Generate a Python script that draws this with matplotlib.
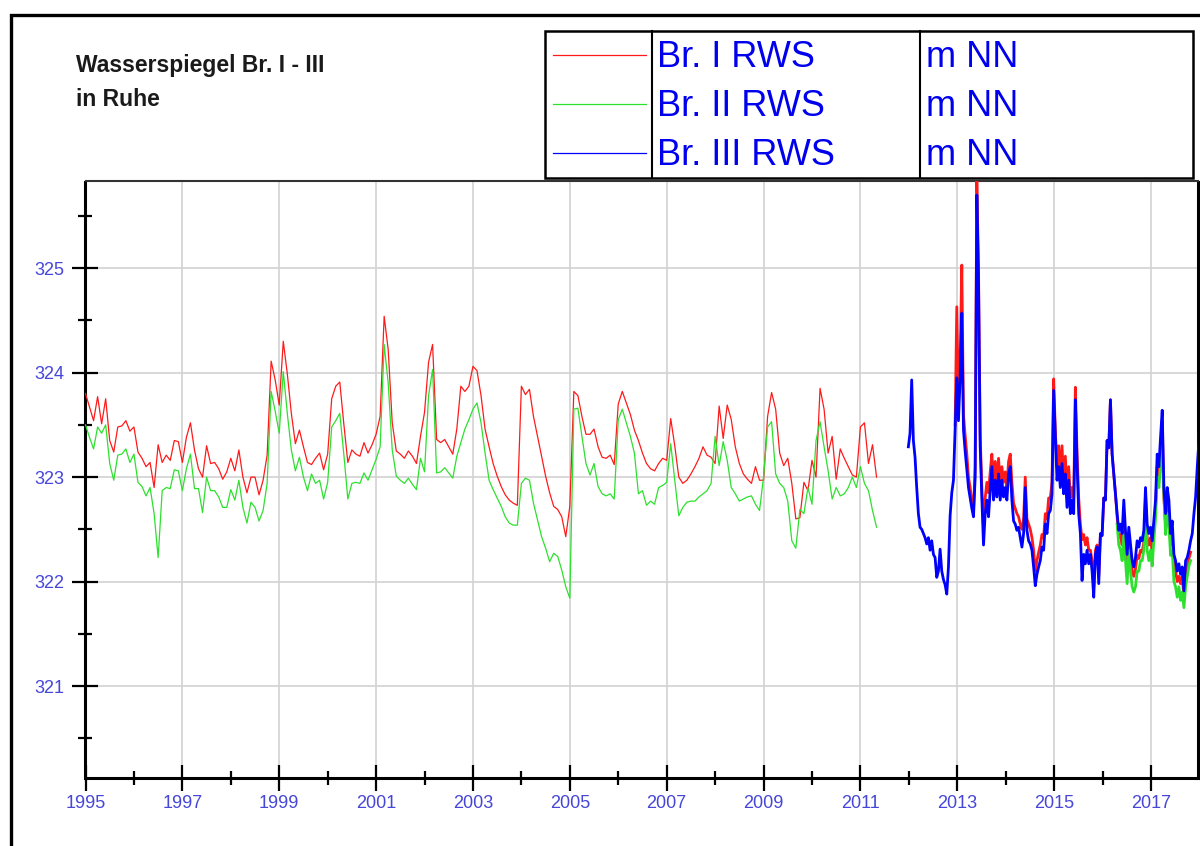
import numpy as np
import matplotlib
matplotlib.use("Agg")
import matplotlib.pyplot as plt
from matplotlib.lines import Line2D
from matplotlib.patches import Rectangle
from matplotlib.ticker import MultipleLocator, FixedLocator

plt.rcParams['font.family'] = ['Liberation Sans', 'DejaVu Sans']

# --- monthly readings 1995-01 .. 2011-05 (m NN) ---
start_monthly = 1995.0
br1_monthly = [
    323.80, 323.67, 323.54, 323.77, 323.51, 323.75, 323.35, 323.24, 323.48, 323.49, 323.54, 323.44,
    323.48, 323.24, 323.18, 323.10, 323.14, 322.90, 323.31, 323.14, 323.21, 323.16, 323.35, 323.34,
    323.14, 323.38, 323.52, 323.26, 323.08, 323.00, 323.30, 323.13, 323.14, 323.08, 322.98, 323.05,
    323.18, 323.06, 323.26, 323.00, 322.85, 323.00, 323.00, 322.83, 322.97, 323.21, 324.11, 323.93,
    323.69, 324.30, 323.99, 323.61, 323.32, 323.45, 323.29, 323.14, 323.12, 323.18, 323.23, 323.07,
    323.22, 323.75, 323.87, 323.91, 323.51, 323.14,
    323.26, 323.22, 323.20, 323.33, 323.23, 323.31, 323.41, 323.58, 324.54, 324.22, 323.52, 323.25,
    323.22, 323.18, 323.25, 323.20, 323.13, 323.39, 323.62, 324.10, 324.27, 323.36, 323.33, 323.36,
    323.29, 323.22, 323.46, 323.87, 323.82, 323.87, 324.06, 324.02, 323.78, 323.46, 323.29, 323.13,
    323.01, 322.91, 322.83, 322.78, 322.75, 322.73, 323.87, 323.79, 323.84, 323.58, 323.39, 323.20,
    323.01, 322.85, 322.72, 322.69, 322.62, 322.43, 322.72, 323.82, 323.78, 323.58, 323.41, 323.41,
    323.46, 323.29,
    323.19, 323.18, 323.21, 323.12, 323.70, 323.82, 323.71, 323.60, 323.45, 323.35, 323.23, 323.13,
    323.08, 323.06, 323.13, 323.18, 323.16, 323.56, 323.30, 323.00, 322.94, 322.97, 323.03, 323.10,
    323.18, 323.29, 323.21, 323.19, 323.13, 323.68, 323.37, 323.69, 323.55, 323.29, 323.13, 323.03,
    322.98, 322.94, 323.10, 322.97, 322.97, 323.58, 323.81, 323.65, 323.23, 323.11, 323.18, 322.94,
    322.60, 322.61, 322.95, 322.87, 323.16, 323.00, 323.85, 323.65, 323.23, 323.39, 322.98, 323.27,
    323.18, 323.10, 323.02, 323.00, 323.48, 323.52, 323.13, 323.31, 323.00,
]
br2_monthly = [
    323.50, 323.38, 323.27, 323.48, 323.42, 323.50, 323.13, 322.97, 323.21, 323.22, 323.27, 323.14,
    323.22, 322.95, 322.91, 322.82, 322.90, 322.65, 322.23, 322.87, 322.90, 322.89, 323.07, 323.06,
    322.87, 323.08, 323.22, 322.89, 322.89, 322.66, 323.00, 322.87, 322.87, 322.81, 322.71, 322.71,
    322.88, 322.78, 322.97, 322.71, 322.56, 322.76, 322.71, 322.58, 322.68, 322.94, 323.82, 323.63,
    323.42, 324.01, 323.61, 323.26, 323.06, 323.19, 323.00, 322.87, 323.03, 322.94, 322.97, 322.79,
    322.95, 323.48, 323.54, 323.61, 323.22, 322.79,
    322.94, 322.95, 322.94, 323.04, 322.97, 323.07, 323.17, 323.29, 324.27, 323.90, 323.26, 323.01,
    322.97, 322.94, 322.99, 322.93, 322.88, 323.18, 323.05, 323.78, 324.03, 323.04, 323.05, 323.09,
    323.04, 322.99, 323.20, 323.33, 323.46, 323.55, 323.65, 323.71, 323.52, 323.23, 322.97, 322.88,
    322.80, 322.72, 322.62, 322.56, 322.54, 322.54, 322.94, 322.99, 322.97, 322.75, 322.59, 322.43,
    322.32, 322.19, 322.27, 322.24, 322.11, 321.95, 321.84, 323.65, 323.66, 323.39, 323.13, 323.02,
    323.13, 322.91,
    322.84, 322.82, 322.84, 322.79, 323.55, 323.65, 323.52, 323.39, 323.23, 322.84, 322.87, 322.73,
    322.77, 322.74, 322.90, 322.92, 322.95, 323.32, 322.97, 322.63, 322.71, 322.76, 322.77, 322.77,
    322.81, 322.84, 322.87, 322.94, 323.39, 323.11, 323.34, 323.16, 322.90, 322.84, 322.77, 322.79,
    322.81, 322.82, 322.74, 322.68, 323.00, 323.48, 323.53, 323.03, 322.94, 322.90, 322.77, 322.39,
    322.32, 322.69, 322.65, 322.90, 322.74, 323.35, 323.53, 323.29, 323.06, 322.79, 322.90, 322.82,
    322.84, 322.90, 323.00, 322.90, 323.10, 322.94, 322.87, 322.68, 322.52,
]

# --- logger readings 2012 .. 2018, one value every ~12.6 days ---
start_logger = 2011.99
per_year_logger = 29
br3_logger = [
    323.29, 323.42, 323.93, 323.35, 323.19, 322.90, 322.65, 322.52, 322.50, 322.46,
    322.42, 322.36, 322.42, 322.30, 322.39, 322.26, 322.23, 322.04, 322.10, 322.31,
    322.10, 322.02, 321.97, 321.88, 322.14, 322.63, 322.85, 322.97, 323.45, 323.95,
    323.54, 323.95, 324.57, 323.45, 323.25, 323.08, 322.90, 322.80, 322.70, 322.62,
    323.00, 325.70, 324.89, 323.30, 322.80, 322.35, 322.65, 322.78, 322.62, 322.87,
    323.10, 322.78, 322.97, 322.81, 323.03, 322.78, 322.97, 322.81, 322.90, 322.78,
    323.03, 323.10, 322.78, 322.58, 322.55, 322.49, 322.52, 322.42, 322.33, 322.46,
    322.90, 322.49, 322.39, 322.36, 322.30, 322.14, 321.96, 322.07, 322.14, 322.20,
    322.33, 322.30, 322.55, 322.46, 322.65, 322.68, 322.84, 323.83, 323.40, 322.97,
    323.10, 322.90, 323.13, 322.84, 323.03, 322.71, 322.97, 322.65, 322.78, 322.65,
    323.74, 323.13, 322.65, 322.46, 322.01, 322.26, 322.17, 322.30, 322.17, 322.26,
    322.10, 321.85, 322.26, 322.33, 321.98, 322.46, 322.44, 322.80, 322.78, 323.35,
    323.28, 323.74, 323.22, 323.03, 322.84, 322.65, 322.49, 322.55, 322.46, 322.78,
    322.49, 322.26, 322.52, 322.36, 322.20, 322.14, 322.23, 322.39, 322.33, 322.42,
    322.39, 322.49, 322.90, 322.55, 322.46, 322.52, 322.39, 322.58, 322.78, 323.22,
    323.10, 323.38, 323.64, 322.90, 322.65, 322.90, 322.78, 322.46, 322.58, 322.26,
    322.20, 322.10, 322.17, 322.07, 322.14, 321.91, 322.20, 322.23, 322.30, 322.39,
    322.46, 322.65, 322.81, 323.10, 323.35, 323.90,
]
br1_logger_first = 28
br1_logger = [
    323.50, 324.63, 323.70, 324.10, 325.03, 323.60, 323.40, 323.22, 323.00, 322.90,
    322.78, 322.68, 323.10, 325.85, 325.00, 323.40, 322.90, 322.50, 322.80, 322.95,
    322.85, 323.05, 323.22, 322.95, 323.15, 322.95, 323.18, 322.95, 323.10, 322.95,
    323.05, 322.90, 323.15, 323.22, 322.95, 322.75, 322.70, 322.65, 322.62, 322.55,
    322.50, 322.60, 323.00, 322.60, 322.55, 322.50, 322.42, 322.30, 322.10, 322.20,
    322.28, 322.35, 322.45, 322.42, 322.65, 322.60, 322.80, 322.80, 322.95, 323.94,
    323.45, 323.10, 323.30, 323.00, 323.30, 322.95, 323.20, 322.85, 323.10, 322.80,
    322.90, 322.80, 323.86, 323.25, 322.80, 322.55, 322.40, 322.45, 322.35, 322.42,
    322.30, 322.30, 322.20, 321.95, 322.30, 322.35, 322.05, 322.45, 322.44, 322.80,
    322.78, 323.35, 323.28, 323.74, 323.22, 323.03, 322.84, 322.62, 322.42, 322.45,
    322.35, 322.65, 322.35, 322.15, 322.40, 322.25, 322.10, 322.05, 322.12, 322.25,
    322.22, 322.30, 322.28, 322.38, 322.80, 322.42, 322.35, 322.42, 322.28, 322.50,
    322.70, 323.10, 323.00, 323.25, 323.55, 322.80, 322.55, 322.75, 322.65, 322.35,
    322.45, 322.15, 322.10, 322.00, 322.05, 321.98, 322.05, 321.85, 322.10, 322.15,
    322.22, 322.28,
]
br2_logger_first = 125
br2_logger = [
    322.55, 322.35, 322.30, 322.20, 322.45, 322.20, 321.98, 322.30, 322.10, 321.95,
    321.90, 321.95, 322.10, 322.10, 322.20, 322.20, 322.30, 322.70, 322.30, 322.20,
    322.30, 322.15, 322.40, 322.60, 323.00, 322.90, 323.10, 323.30, 322.85, 322.45,
    322.65, 322.55, 322.25, 322.30, 322.00, 321.95, 321.85, 321.95, 321.82, 321.90,
    321.75, 321.95, 322.05, 322.15, 322.20,
]

legend_names = ["Br. I RWS", "Br. II RWS", "Br. III RWS"]
legend_units = ["m NN", "m NN", "m NN"]
title_lines = "Wasserspiegel Br. I - III\nin Ruhe"

c_red = '#ff1a1a'
c_green = '#2ee02e'
c_blue = '#0000ff'
c_tick = '#4646d8'

W, H = 1200, 846
fig = plt.figure(figsize=(W / 100, H / 100), dpi=100)


def fx(px):
    return px / W


def fy(py):
    return 1 - py / H


# plot area
ax = fig.add_axes([fx(85.5), fy(777.5), fx(1197.5 - 85.5), (777.5 - 181.5) / H])

t_month = start_monthly + np.arange(len(br1_monthly)) / 12
t_month2 = start_monthly + np.arange(len(br2_monthly)) / 12
t_log = start_logger + np.arange(len(br3_logger)) / per_year_logger
t_log1 = t_log[br1_logger_first:br1_logger_first + len(br1_logger)]
t_log2 = t_log[br2_logger_first:br2_logger_first + len(br2_logger)]

ax.plot(t_month, br1_monthly, color=c_red, lw=0.9, zorder=3)
ax.plot(t_month2, br2_monthly, color=c_green, lw=0.9, zorder=3)
ax.plot(t_log1, br1_logger, color=c_red, lw=2.0, zorder=3)
ax.plot(t_log2, br2_logger, color=c_green, lw=2.0, zorder=3)
ax.plot(t_log, br3_logger, color=c_blue, lw=2.0, zorder=4)

ax.set_xlim(1995, 2017.96)
ax.set_ylim(320.124, 325.83)

ax.xaxis.set_major_locator(FixedLocator(np.arange(1995, 2018, 2)))
ax.xaxis.set_minor_locator(FixedLocator(np.arange(1996, 2019, 2)))
ax.yaxis.set_major_locator(MultipleLocator(1))
ax.yaxis.set_minor_locator(MultipleLocator(0.5))
ax.xaxis.set_major_formatter(matplotlib.ticker.FuncFormatter(lambda v, p: f"{int(round(v))}"))
ax.yaxis.set_major_formatter(matplotlib.ticker.FuncFormatter(lambda v, p: f"{int(round(v))}"))

ax.tick_params(which='major', direction='inout', length=19, width=1.6, color='black',
               labelcolor=c_tick, labelsize=13)
ax.tick_params(which='minor', direction='inout', length=9.5, width=1.6, color='black')
ax.tick_params(axis='x', which='major', pad=3)
ax.tick_params(axis='y', which='major', pad=6)
ax.tick_params(top=False, right=False, which='both')

ax.grid(True, which='major', color='#d2d2d2', lw=1.2, zorder=0)
ax.set_axisbelow(True)

for side in ['left', 'bottom', 'right']:
    ax.spines[side].set_linewidth(2.2)
    ax.spines[side].set_color('black')
ax.spines['top'].set_linewidth(1.5)
ax.spines['top'].set_color('#333333')

# outer frame (cut off at the right and bottom edges)
fig.add_artist(Rectangle((fx(11), fy(H + 20)), fx(W + 20 - 11), (H + 20 - 15) / H,
                         transform=fig.transFigure, fill=False, lw=2.4,
                         edgecolor='black', clip_on=False))

# title
fig.text(fx(76), fy(54), title_lines, ha='left', va='top', fontsize=16.5,
         fontweight='bold', color='#1a1a1a', linespacing=1.6)

# legend table
x0, x1, x2, x3 = 545, 652, 920, 1193
y0, y1 = 31, 178
fig.add_artist(Rectangle((fx(x0), fy(y1)), fx(x3 - x0), (y1 - y0) / H,
                         transform=fig.transFigure, fill=False, lw=1.8,
                         edgecolor='black'))
for xd in (x1, x2):
    fig.add_artist(Line2D([fx(xd), fx(xd)], [fy(y0), fy(y1)],
                          transform=fig.transFigure, color='black', lw=1.5))

row_y = [55, 104, 153]
for name, unit, col, yy in zip(legend_names, legend_units, [c_red, c_green, c_blue], row_y):
    fig.add_artist(Line2D([fx(553), fx(646)], [fy(yy), fy(yy)],
                          transform=fig.transFigure, color=col, lw=0.9))
    fig.text(fx(657), fy(yy + 12), name, ha='left', va='baseline', fontsize=26, color='#0000ee')
    fig.text(fx(926), fy(yy + 12), unit, ha='left', va='baseline', fontsize=26, color='#0000ee')

fig.savefig("out.png", dpi=100, facecolor='white')
